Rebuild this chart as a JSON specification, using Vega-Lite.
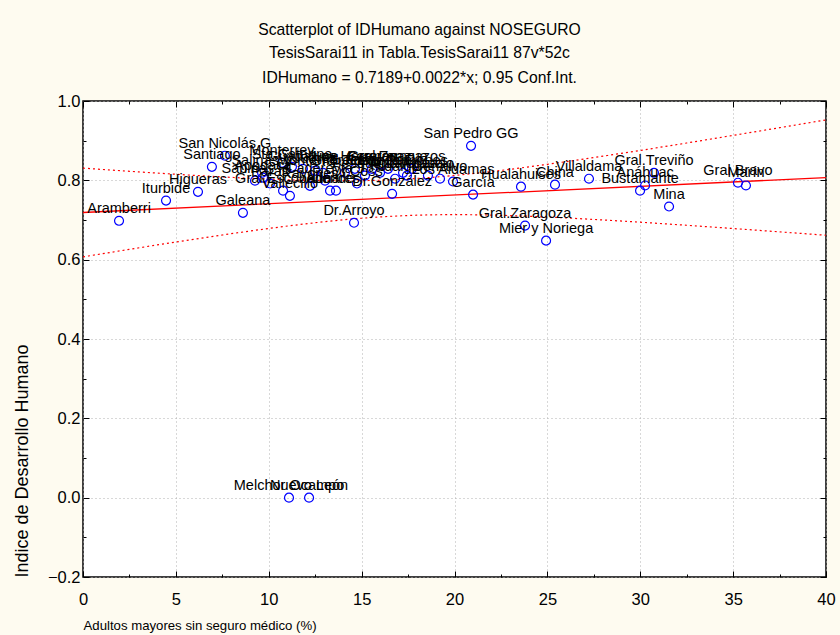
{
  "$schema": "https://vega.github.io/schema/vega-lite/v6.json",
  "width": 743,
  "height": 476,
  "autosize": "none",
  "padding": {"left": 83, "top": 101, "right": 14, "bottom": 58},
  "background": "#FEFBF0",
  "config": {
    "view": {"stroke": "#000000", "strokeWidth": 1.5, "fill": "#FFFFFF"},
    "font": "Liberation Sans",
    "axis": {"domain": false, "labelFont": "Liberation Sans", "labelFontSize": 16.5, "labelColor": "#000", "titleFont": "Liberation Sans", "titleFontSize": 14, "titleFontWeight": "normal", "titleColor": "#000", "tickColor": "#000", "gridColor": "#B0B0B0", "gridDash": [1, 3], "gridWidth": 1}
  },
  "title": {
    "text": ["Scatterplot of IDHumano against NOSEGURO", "TesisSarai11 in Tabla.TesisSarai11 87v*52c"],
    "subtitle": "IDHumano = 0.7189+0.0022*x; 0.95 Conf.Int.",
    "font": "Liberation Sans", "fontSize": 15.7, "fontWeight": "normal", "color": "#000", "lineHeight": 23,
    "subtitleFont": "Liberation Sans", "subtitleFontSize": 15.7, "subtitleColor": "#000", "subtitlePadding": 10,
    "anchor": "middle", "frame": "group", "dx": -35, "offset": 6
  },
  "resolve": {"axis": {"x": "independent", "y": "independent"}},
  "datasets": {
    "pts": [
      {"name": "Aramberri", "x": 1.94, "y": 0.698},
      {"name": "Iturbide", "x": 4.47, "y": 0.749},
      {"name": "Higueras", "x": 6.19, "y": 0.771},
      {"name": "Galeana", "x": 8.61, "y": 0.718},
      {"name": "Santiago", "x": 6.94, "y": 0.834},
      {"name": "San Nicolás G", "x": 7.64, "y": 0.862},
      {"name": "Monterrey", "x": 10.71, "y": 0.844},
      {"name": "Sta.Catarina", "x": 11.25, "y": 0.834},
      {"name": "Salinas V", "x": 9.64, "y": 0.819},
      {"name": "Sabinas H", "x": 9.26, "y": 0.799},
      {"name": "Apodaca", "x": 9.69, "y": 0.807},
      {"name": "Parás", "x": 10.07, "y": 0.792},
      {"name": "Gral.Escobedo", "x": 10.77, "y": 0.774},
      {"name": "Vallecillo", "x": 11.14, "y": 0.761},
      {"name": "Guadalupe", "x": 11.84, "y": 0.829},
      {"name": "Rayones", "x": 12.22, "y": 0.786},
      {"name": "Juárez", "x": 12.49, "y": 0.824},
      {"name": "Montemorelos", "x": 12.92, "y": 0.819},
      {"name": "Cadereyta J", "x": 13.03, "y": 0.799},
      {"name": "Allende", "x": 13.3, "y": 0.774},
      {"name": "Linares", "x": 13.62, "y": 0.774},
      {"name": "Gral.Terán", "x": 14.1, "y": 0.819},
      {"name": "Dr.Arroyo", "x": 14.59, "y": 0.693},
      {"name": "Los Herreras", "x": 14.64, "y": 0.829},
      {"name": "Dr.Coss", "x": 14.75, "y": 0.792},
      {"name": "Pesquería", "x": 15.18, "y": 0.812},
      {"name": "Carmen", "x": 15.56, "y": 0.829},
      {"name": "Ciénega F", "x": 15.99, "y": 0.819},
      {"name": "Gral.Zuazua", "x": 16.42, "y": 0.829},
      {"name": "Dr.González", "x": 16.64, "y": 0.766},
      {"name": "Hidalgo", "x": 16.8, "y": 0.804},
      {"name": "Los Ramones", "x": 17.23, "y": 0.819},
      {"name": "Agualeguas", "x": 17.44, "y": 0.812},
      {"name": "Lampazos", "x": 17.71, "y": 0.829},
      {"name": "Abasolo", "x": 18.57, "y": 0.812},
      {"name": "Cerralvo", "x": 19.22, "y": 0.804},
      {"name": "Los Aldamas", "x": 19.92, "y": 0.797},
      {"name": "San Pedro GG", "x": 20.89, "y": 0.887},
      {"name": "García", "x": 21.0, "y": 0.764},
      {"name": "Hualahuises", "x": 23.58, "y": 0.784},
      {"name": "Gral.Zaragoza", "x": 23.8, "y": 0.686},
      {"name": "Mier y Noriega", "x": 24.93, "y": 0.648},
      {"name": "China", "x": 25.41, "y": 0.789},
      {"name": "Villaldama", "x": 27.24, "y": 0.804},
      {"name": "Bustamante", "x": 29.99, "y": 0.774},
      {"name": "Anáhuac", "x": 30.26, "y": 0.787},
      {"name": "Gral.Treviño", "x": 30.74, "y": 0.819},
      {"name": "Mina", "x": 31.55, "y": 0.734},
      {"name": "Gral.Bravo", "x": 35.26, "y": 0.794},
      {"name": "Marín", "x": 35.69, "y": 0.787},
      {"name": "Melchor Ocampo", "x": 11.09, "y": 0.0},
      {"name": "Nuevo León", "x": 12.17, "y": 0.0}
    ],
    "fit": [
      {"x": 0, "y": 0.7189},
      {"x": 40, "y": 0.8069}
    ],
    "ci": [
      {"band": "upper", "x": 0, "y": 0.8308}, {"band": "upper", "x": 2.5, "y": 0.8228}, {"band": "upper", "x": 5, "y": 0.8153},
      {"band": "upper", "x": 7.5, "y": 0.8086}, {"band": "upper", "x": 10, "y": 0.8032}, {"band": "upper", "x": 12.5, "y": 0.7997},
      {"band": "upper", "x": 15, "y": 0.7994}, {"band": "upper", "x": 17.5, "y": 0.8035}, {"band": "upper", "x": 20, "y": 0.8123},
      {"band": "upper", "x": 22.5, "y": 0.825}, {"band": "upper", "x": 25, "y": 0.8404}, {"band": "upper", "x": 27.5, "y": 0.8574},
      {"band": "upper", "x": 30, "y": 0.8754}, {"band": "upper", "x": 32.5, "y": 0.8941}, {"band": "upper", "x": 35, "y": 0.9133},
      {"band": "upper", "x": 37.5, "y": 0.9327}, {"band": "upper", "x": 40, "y": 0.9523},
      {"band": "lower", "x": 0, "y": 0.607}, {"band": "lower", "x": 2.5, "y": 0.626}, {"band": "lower", "x": 5, "y": 0.6445},
      {"band": "lower", "x": 7.5, "y": 0.6622}, {"band": "lower", "x": 10, "y": 0.6786}, {"band": "lower", "x": 12.5, "y": 0.6931},
      {"band": "lower", "x": 15, "y": 0.7044}, {"band": "lower", "x": 17.5, "y": 0.7113}, {"band": "lower", "x": 20, "y": 0.7135},
      {"band": "lower", "x": 22.5, "y": 0.7118}, {"band": "lower", "x": 25, "y": 0.7074}, {"band": "lower", "x": 27.5, "y": 0.7014},
      {"band": "lower", "x": 30, "y": 0.6944}, {"band": "lower", "x": 32.5, "y": 0.6867}, {"band": "lower", "x": 35, "y": 0.6785},
      {"band": "lower", "x": 37.5, "y": 0.6701}, {"band": "lower", "x": 40, "y": 0.6615}
    ]
  },
  "layer": [
    {
      "data": {"name": "ci"},
      "mark": {"type": "line", "color": "#FF0000", "strokeWidth": 1.2, "strokeDash": [2, 3], "interpolate": "monotone", "clip": true},
      "encoding": {
        "x": {
          "field": "x", "type": "quantitative",
          "scale": {"domain": [0, 40], "nice": false, "zero": false},
          "axis": {
            "title": "Adultos mayores sin seguro médico (%)",
            "titleFontSize": 13.2,
            "values": [0, 2.5, 5, 7.5, 10, 12.5, 15, 17.5, 20, 22.5, 25, 27.5, 30, 32.5, 35, 37.5, 40],
            "labelExpr": "datum.value % 5 === 0 ? format(datum.value, 'd') : ''",
            "tickSize": {"condition": {"test": "datum.value % 5 === 0", "value": -6}, "value": -3},
            "gridOpacity": {"condition": {"test": "datum.value % 5 === 0", "value": 1}, "value": 0},
            "labelPadding": 20,
            "labelFlush": false,
            "titleX": 0, "titleY": 48, "titleAlign": "left", "titleBaseline": "middle", "titleAnchor": null
          }
        },
        "y": {
          "field": "y", "type": "quantitative",
          "scale": {"domain": [-0.2, 1.0], "nice": false, "zero": false},
          "axis": {
            "title": "Indice de Desarrollo Humano",
            "titleFontSize": 18,
            "values": [-0.2, -0.1, 0, 0.1, 0.2, 0.3, 0.4, 0.5, 0.6, 0.7, 0.8, 0.9, 1.0],
            "labelExpr": "round(datum.value * 10) % 2 === 0 ? format(datum.value, '.1f') : ''",
            "tickSize": {"condition": {"test": "round(datum.value * 10) % 2 === 0", "value": -6}, "value": -3},
            "gridOpacity": {"condition": {"test": "round(datum.value * 10) % 2 === 0", "value": 1}, "value": 0},
            "labelPadding": 9,
            "labelFlush": false,
            "titleX": -61, "titleY": 476, "titleAngle": -90, "titleAlign": "left", "titleBaseline": "middle", "titleAnchor": null
          }
        },
        "detail": {"field": "band", "type": "nominal"}
      }
    },
    {
      "data": {"name": "fit"},
      "mark": {"type": "line", "color": "#FF0000", "strokeWidth": 1.3, "clip": true},
      "encoding": {
        "x": {
          "field": "x", "type": "quantitative",
          "scale": {"domain": [0, 40], "nice": false, "zero": false},
          "axis": {
            "orient": "top", "title": null, "labels": false, "grid": false,
            "values": [0, 2.5, 5, 7.5, 10, 12.5, 15, 17.5, 20, 22.5, 25, 27.5, 30, 32.5, 35, 37.5, 40],
            "tickSize": {"condition": {"test": "datum.value % 5 === 0", "value": -6}, "value": -3}
          }
        },
        "y": {
          "field": "y", "type": "quantitative",
          "scale": {"domain": [-0.2, 1.0], "nice": false, "zero": false},
          "axis": {
            "orient": "right", "title": null, "labels": false, "grid": false,
            "values": [-0.2, -0.1, 0, 0.1, 0.2, 0.3, 0.4, 0.5, 0.6, 0.7, 0.8, 0.9, 1.0],
            "tickSize": {"condition": {"test": "round(datum.value * 10) % 2 === 0", "value": -6}, "value": -3}
          }
        }
      }
    },
    {
      "data": {"name": "pts"},
      "mark": {"type": "point", "shape": "circle", "filled": false, "color": "#0000FF", "size": 80, "strokeWidth": 1.2, "opacity": 1},
      "encoding": {
        "x": {"field": "x", "type": "quantitative", "axis": null},
        "y": {"field": "y", "type": "quantitative", "axis": null}
      }
    },
    {
      "data": {"name": "pts"},
      "mark": {"type": "text", "dy": -12, "fontSize": 14.5, "font": "Liberation Sans", "color": "#000000", "align": "center", "baseline": "middle"},
      "encoding": {
        "x": {"field": "x", "type": "quantitative", "axis": null},
        "y": {"field": "y", "type": "quantitative", "axis": null},
        "text": {"field": "name", "type": "nominal"}
      }
    }
  ]
}
